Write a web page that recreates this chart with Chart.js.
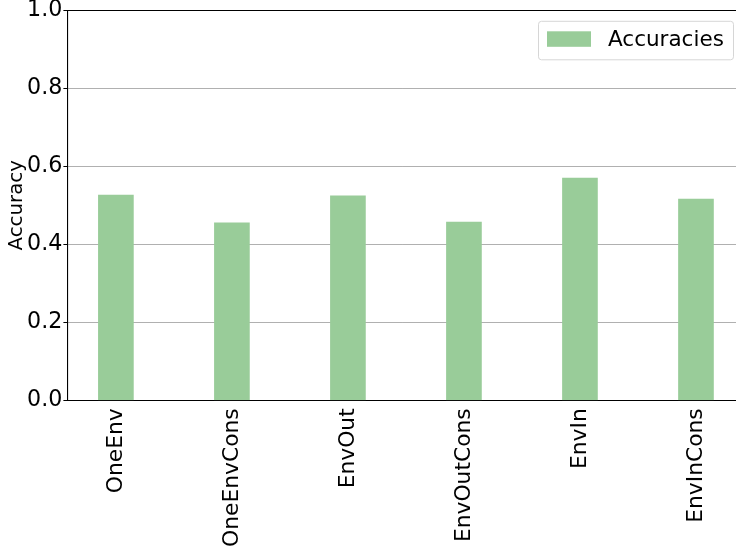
<!DOCTYPE html>
<html>
<head>
<meta charset="utf-8">
<script src="https://cdn.jsdelivr.net/npm/chart.js@4/dist/chart.umd.min.js"></script>
<style>
  html, body { margin: 0; padding: 0; background: #fff; overflow: hidden; }
  canvas { display: block; }
</style>
</head>
<body>
<canvas id="chart" width="736" height="547"></canvas>
<script>
'use strict'
const methods = ['OneEnv', 'OneEnvCons', 'EnvOut', 'EnvOutCons', 'EnvIn', 'EnvInCons'];
const accuracies = [0.526, 0.455, 0.524, 0.457, 0.570, 0.516];
const yTicks = [0, 0.2, 0.4, 0.6, 0.8, 1.0];

const FONT = 'DejaVu Sans';

// legend box in the upper right corner of the plot
const legendBox = {
    id: 'legendBox',
    afterDraw(chart) {
        const ctx = chart.ctx;
        const ds = chart.data.datasets[0];
        const right = chart.chartArea.right - 3;
        const top = chart.chartArea.top + 10.5;
        const w = 195, h = 38.5;
        const x = right - w;
        ctx.save();
        ctx.beginPath();
        ctx.roundRect(x + 0.5, top + 0.5, w, h, 3);
        ctx.fillStyle = 'rgba(255,255,255,0.8)';
        ctx.fill();
        ctx.strokeStyle = '#d6d6d6';
        ctx.lineWidth = 1;
        ctx.stroke();
        ctx.fillStyle = ds.backgroundColor;
        ctx.fillRect(x + 9, top + 10.5, 44, 15.5);
        ctx.fillStyle = '#000';
        ctx.font = '21.5px "' + FONT + '"';
        ctx.textBaseline = 'middle';
        ctx.textAlign = 'left';
        ctx.fillText(ds.label, x + 70, top + 19.5);
        ctx.restore();
    }
};

new Chart(document.getElementById('chart'), {
    type: 'bar',
    data: {
        datasets: [{
            label: 'Accuracies',
            data: accuracies.map((v, i) => ({ x: i, y: v })),
            backgroundColor: '#99cc99',
            borderWidth: 0,
            barThickness: 35
        }]
    },
    options: {
        responsive: false,
        animation: false,
        layout: { padding: { top: 10.3, right: 0, left: 0, bottom: 0 } },
        plugins: {
            legend: { display: false },
            tooltip: { enabled: false }
        },
        scales: {
            x: {
                type: 'linear',
                position: 'bottom',
                offset: false,
                min: -0.418,
                max: 5.345,
                z: 2,
                afterBuildTicks: s => { s.ticks = methods.map((_, i) => ({ value: i })); },
                afterFit: s => { s.height = 146.7; s.paddingLeft = 0; s.paddingRight = 0; },
                grid: { display: false, drawTicks: false, offset: false },
                border: { display: true, color: '#000', width: 1.1 },
                ticks: {
                    autoSkip: false,
                    minRotation: 90,
                    maxRotation: 90,
                    padding: 8,
                    color: '#000',
                    font: { family: FONT, size: 21.8 },
                    callback: v => methods[v]
                }
            },
            x2: {
                type: 'linear',
                position: 'top',
                offset: false,
                min: 0,
                max: 1,
                z: 2,
                afterFit: s => { s.height = 0; },
                grid: { display: false, drawTicks: false },
                border: { display: true, color: '#000', width: 1.1 },
                ticks: { display: false }
            },
            y: {
                min: 0,
                max: 1,
                z: 1,
                afterBuildTicks: s => { s.ticks = yTicks.map(v => ({ value: v })); },
                afterFit: s => { s.width = 67.4; s.paddingTop = 0; s.paddingBottom = 0; },
                grid: { color: '#b0b0b0', lineWidth: 1, tickColor: '#000', tickLength: 4 },
                border: { display: true, color: '#000', width: 1.1 },
                ticks: {
                    padding: 1,
                    color: '#000',
                    font: { family: FONT, size: 22.2 },
                    callback: v => v.toFixed(1)
                },
                title: {
                    display: true,
                    text: 'Accuracy',
                    color: '#000',
                    font: { family: FONT, size: 19.8 },
                    padding: { top: 5, bottom: 0 }
                }
            }
        }
    },
    plugins: [legendBox]
});
</script>
</body>
</html>
